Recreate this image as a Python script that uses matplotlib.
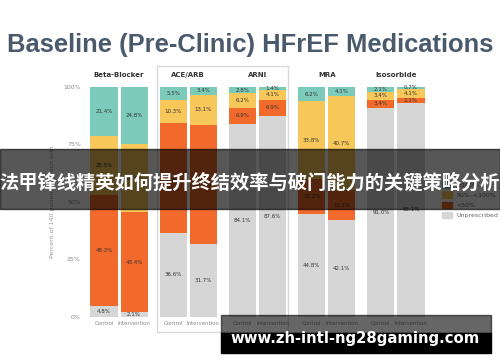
import numpy as np
import matplotlib
matplotlib.use("Agg")
from matplotlib import pyplot as plt
from matplotlib.patches import Rectangle, Patch
from matplotlib.transforms import blended_transform_factory

drugs = ["Beta-Blocker", "ACE/ARB", "ARNI", "MRA", "Isosorbide"]
arms = ["Control", "Intervention"]
levels = ["Unprescribed", "<50%", "50%\u2013<100%", "\u2265100%"]

# percent per arm, order: control, intervention for each drug
unprescribed = [4.8, 2.1, 36.6, 31.7, 84.1, 87.6, 44.8, 42.1, 91.0, 93.1]
below_50 = [48.3, 43.4, 47.6, 51.8, 6.9, 6.9, 15.2, 13.1, 3.4, 2.1]
mid_dose = [25.5, 29.7, 10.3, 13.1, 6.2, 4.1, 33.8, 40.7, 3.4, 4.1]
target_dose = [21.4, 24.8, 5.5, 3.4, 2.8, 1.4, 6.2, 4.1, 2.1, 0.7]

colors = ["#d6d6d6", "#f26a2b", "#f8c75a", "#7ccab9"]

fig = plt.figure(figsize=(5, 3.62), dpi=100)
ax = fig.add_axes([0.17, 0.1243, 0.69, 0.6354])

pos = []
for g in range(len(drugs)):
    pos += [g * 2.3 - 0.5, g * 2.3 + 0.5]
pos = np.array(pos)

bottom = np.zeros(len(pos))
for vals, col in zip([unprescribed, below_50, mid_dose, target_dose], colors):
    vals = np.array(vals)
    ax.bar(pos, vals, bottom=bottom, width=0.9, color=col, linewidth=0)
    for x, b, v in zip(pos, bottom, vals):
        ax.text(x, b + v / 2, f"{v:.1f}%", ha="center", va="center",
                fontsize=4, color="#333333")
    bottom += vals

ax.set_xlim(-1.13, 10.33)
ax.set_ylim(0, 100)
ax.set_yticks([0, 25, 50, 75, 100])
ax.set_yticklabels(["0%", "25%", "50%", "75%", "100%"], fontsize=4.5, color="#8a8a8a")
ax.set_xticks(pos)
ax.set_xticklabels(arms * len(drugs), fontsize=3.9, color="#8a8a8a")
ax.tick_params(length=0, pad=3)
for s in ax.spines.values():
    s.set_visible(False)
ax.set_ylabel("Percent of 140 patients in each arm", fontsize=4.5, color="#9a9a9a", labelpad=6)

trans = blended_transform_factory(ax.transData, ax.transAxes)
for g, d in enumerate(drugs):
    ax.text(g * 2.3, 1.05, d, transform=trans, ha="center", va="center",
            fontsize=5, fontweight="bold", color="#333333")

ax.add_patch(Rectangle((1.26, -0.065), 4.35, 1.156, transform=trans, fill=False,
                       edgecolor="#d9d9d9", linewidth=1, clip_on=False))

handles = [Patch(color=c) for c in colors[::-1]]
fig.legend(handles, levels[::-1], loc="upper left", bbox_to_anchor=(0.872, 0.515),
           frameon=False, fontsize=4.5, handlelength=1.6, handleheight=1.2,
           labelspacing=0.6, labelcolor="#666666")

fig.text(0.5, 0.875, "Baseline (Pre-Clinic) HFrEF Medications", ha="center",
         va="center", fontsize=18.4, fontweight="bold", color="#4a5a6d",
         family="Liberation Sans")

# overlay banner
fig.add_artist(Rectangle((0, 0.4227), 1, 0.1657, transform=fig.transFigure,
                         color="black", alpha=0.66, zorder=10))
fig.text(0.5, 0.495, "法甲锋线精英如何提升终结效率与破门能力的关键策略分析",
         ha="center", va="center", fontsize=13.9, fontweight="bold", color="white",
         family=["Noto Sans CJK SC", "DejaVu Sans"], zorder=11)

# watermark
fig.add_artist(Rectangle((0.442, 0.0801), 0.54, 0.0497, transform=fig.transFigure,
                         color="black", alpha=0.6, zorder=10))
fig.add_artist(Rectangle((0.442, 0.0249), 0.54, 0.0552, transform=fig.transFigure,
                         color="black", zorder=10))
fig.text(0.71, 0.066, "www.zh-intl-ng28gaming.com", ha="center", va="center",
         fontsize=10.7, fontweight="bold", color="white", family="DejaVu Sans", zorder=11)

fig.savefig("out.png", dpi=100)
